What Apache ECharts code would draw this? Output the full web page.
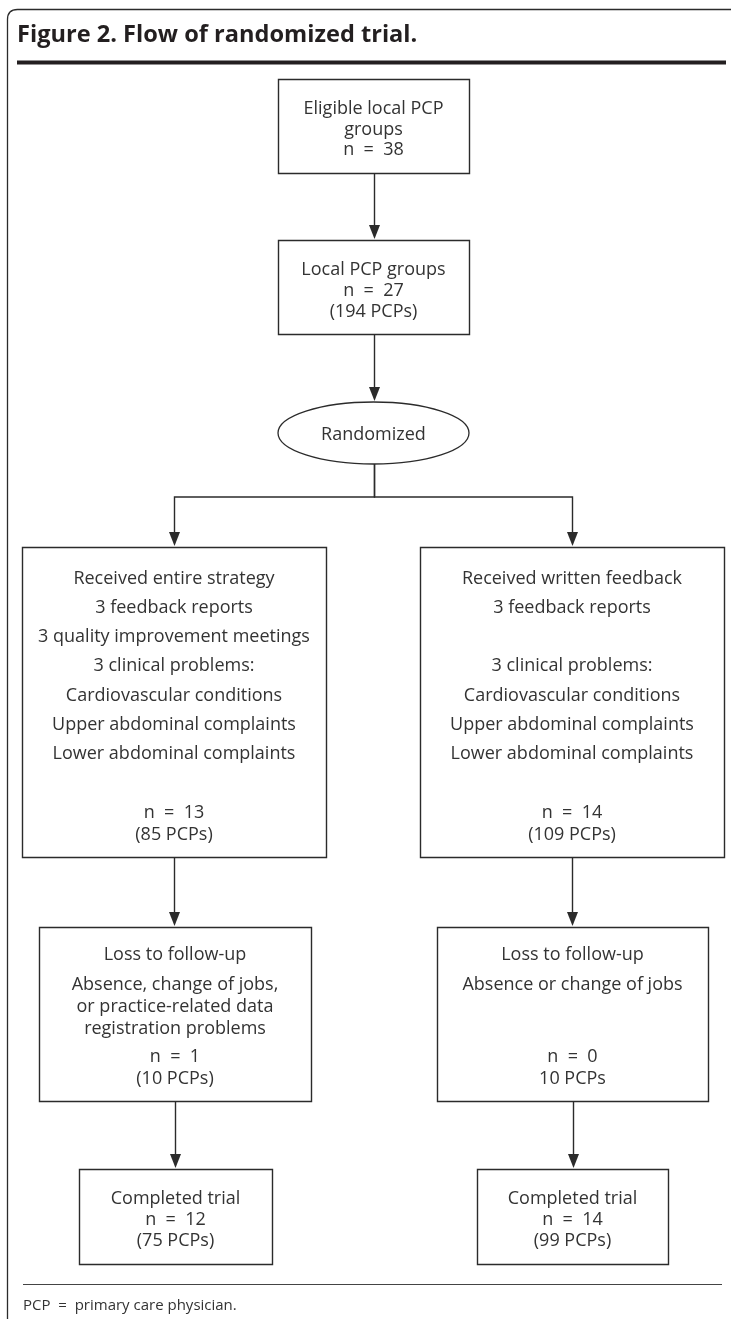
<!DOCTYPE html>
<html><head><meta charset="utf-8">
<script src="https://cdn.jsdelivr.net/npm/echarts@6/dist/echarts.min.js"></script>
<style>html,body{margin:0;padding:0;background:#fff}#c{width:731px;height:1319px}</style>
</head><body><div id="c"></div>
<script>
// ---- content ----
const titleText = 'Figure 2. Flow of randomized trial.';
const footnoteText = 'PCP  =  primary care physician.';
const nodeIds = ['eligible','local','randomized','armEntire','armWritten','lossEntire','lossWritten','doneEntire','doneWritten'];
const nodeLines = [
  ['Eligible local PCP','groups','n  =  38'],
  ['Local PCP groups','n  =  27','(194 PCPs)'],
  ['Randomized'],
  ['Received entire strategy','3 feedback reports','3 quality improvement meetings','3 clinical problems:','Cardiovascular conditions','Upper abdominal complaints','Lower abdominal complaints','n  =  13','(85 PCPs)'],
  ['Received written feedback','3 feedback reports','','3 clinical problems:','Cardiovascular conditions','Upper abdominal complaints','Lower abdominal complaints','n  =  14','(109 PCPs)'],
  ['Loss to follow-up','Absence, change of jobs,','or practice-related data','registration problems','n  =  1','(10 PCPs)'],
  ['Loss to follow-up','Absence or change of jobs','','','n  =  0','10 PCPs'],
  ['Completed trial','n  =  12','(75 PCPs)'],
  ['Completed trial','n  =  14','(99 PCPs)']
];
const flowEdges = [
  ['eligible','local'],['local','randomized'],
  ['randomized','armEntire'],['randomized','armWritten'],
  ['armEntire','lossEntire'],['armWritten','lossWritten'],
  ['lossEntire','doneEntire'],['lossWritten','doneWritten']
];

// ---- layout (page units on hidden axes) ----
const nodeBox = {
  eligible:[278,79,469,173], local:[278,240,469,334], randomized:[278,402,469,464],
  armEntire:[22,547,326,857], armWritten:[420,547,724,857],
  lossEntire:[39,927,311,1101], lossWritten:[437,927,708,1101],
  doneEntire:[79,1169,272,1264], doneWritten:[477,1169,668,1264]
};
const armLines = [577,606,635,664,694,723,752,811,833];
const lossLines = [953,983,1005,1027,1055,1077];
const doneLines = [1197,1218,1239];
const lineY = {
  eligible:[107,128,148], local:[268,289,310], randomized:[433],
  armEntire:armLines, armWritten:armLines,
  lossEntire:lossLines, lossWritten:lossLines,
  doneEntire:doneLines, doneWritten:doneLines
};
const textShift = 1.5;
const branchY = 497;
const INK = '#2b2b2b';
const TEXT = '#333';
const FONT = "'Open Sans', sans-serif";

const chart = echarts.init(document.getElementById('c'), null, {renderer:'canvas'});

function nodeRender(params, api){
  const i = api.value(0);
  const id = nodeIds[i];
  const b = nodeBox[id];
  const p0 = api.coord([b[0], b[1]]);
  const p1 = api.coord([b[2], b[3]]);
  const children = [];
  if (id === 'randomized') {
    const cx = (p0[0]+p1[0])/2, cy = (p0[1]+p1[1])/2;
    const rx = (p1[0]-p0[0])/2, ry = (p1[1]-p0[1])/2;
    children.push({type:'path', shape:{pathData:
      `M ${cx-rx} ${cy} A ${rx} ${ry} 0 1 0 ${cx+rx} ${cy} A ${rx} ${ry} 0 1 0 ${cx-rx} ${cy} Z`},
      style:{fill:'#fff', stroke:INK, lineWidth:1.3}});
  } else {
    children.push({type:'rect', shape:{x:p0[0]+0.5, y:p0[1]+0.5, width:p1[0]-p0[0], height:p1[1]-p0[1]},
      style:{fill:'#fff', stroke:INK, lineWidth:1.4}});
  }
  const cxData = (b[0]+b[2])/2;
  nodeLines[i].forEach((t, k) => {
    if (!t) return;
    const p = api.coord([cxData, lineY[id][k] + textShift]);
    children.push({type:'text', x:p[0], y:p[1], style:{text:t, fill:TEXT, font:`18px ${FONT}`, align:'center', verticalAlign:'middle'}});
  });
  return {type:'group', children};
}

function edgeRender(params, api){
  const e = flowEdges[api.value(0)];
  const s = nodeBox[e[0]], t = nodeBox[e[1]];
  const sx = (s[0]+s[2])/2, tx = (t[0]+t[2])/2;
  let pts;
  if (e[0] === 'randomized') {
    pts = [[sx, s[3]],[sx, branchY],[tx, branchY],[tx, t[1]]];
  } else {
    pts = [[sx, s[3]],[sx, t[1]]];
  }
  const px = pts.map(q => api.coord(q)).map(q => [Math.round(q[0])+0.5, q[1]]);
  const tip = px[px.length-1];
  const headLen = 15, headHalf = 5.5;
  const line = px.slice(); line[line.length-1] = [tip[0], tip[1]-headLen+2];
  return {type:'group', children:[
    {type:'polyline', shape:{points:line}, style:{stroke:INK, lineWidth:1.4, fill:null}},
    {type:'polygon', shape:{points:[[tip[0], tip[1]-1],[tip[0]-headHalf, tip[1]-headLen],[tip[0]+headHalf, tip[1]-headLen]]}, style:{fill:INK}}
  ]};
}

function frameRender(params, api){
  const tl = api.coord([7,9]);
  const br = api.coord([740,1330]);
  const r = 10;
  const x = tl[0]+0.5, y = tl[1]+0.5;
  const t0 = api.coord([17, 0])[0];
  const t1 = api.coord([726, 0])[0];
  const ry = api.coord([0, 60.5])[1];
  const fy = api.coord([0, 1284])[1];
  const f0 = api.coord([23,0])[0], f1 = api.coord([722,0])[0];
  const tp = api.coord([17, 35]);
  const fp = api.coord([23, 1306]);
  return {type:'group', children:[
    {type:'path', shape:{pathData:`M ${x} ${br[1]} L ${x} ${y+r} Q ${x} ${y} ${x+r} ${y} L ${br[0]} ${y}`},
      style:{stroke:INK, lineWidth:1.3, fill:null}},
    {type:'rect', shape:{x:t0, y:ry, width:t1-t0, height:4}, style:{fill:'#231f20'}},
    {type:'line', shape:{x1:f0, y1:fy+0.5, x2:f1, y2:fy+0.5}, style:{stroke:'#444', lineWidth:1.2}},
    {type:'text', x:tp[0], y:tp[1], style:{text:titleText, fill:'#231f20', font:`bold 23.6px ${FONT}`, align:'left', verticalAlign:'middle'}},
    {type:'text', x:fp[0], y:fp[1], style:{text:footnoteText, fill:TEXT, font:`15px ${FONT}`, align:'left', verticalAlign:'middle'}}
  ]};
}

chart.setOption({
  animation:false,
  backgroundColor:'#fff',
  grid:{left:0, right:0, top:0, bottom:0},
  xAxis:{type:'value', min:0, max:731, show:false},
  yAxis:{type:'value', min:0, max:1319, inverse:true, show:false},
  series:[
    {type:'custom', name:'frame', data:[[0]], renderItem:frameRender, clip:false, silent:true},
    {type:'custom', name:'edges', data:flowEdges.map((e,i)=>[i]), renderItem:edgeRender, clip:false, silent:true},
    {type:'custom', name:'nodes', data:nodeIds.map((n,i)=>[i]), renderItem:nodeRender, clip:false, silent:true}
  ]
});
</script></body></html>
